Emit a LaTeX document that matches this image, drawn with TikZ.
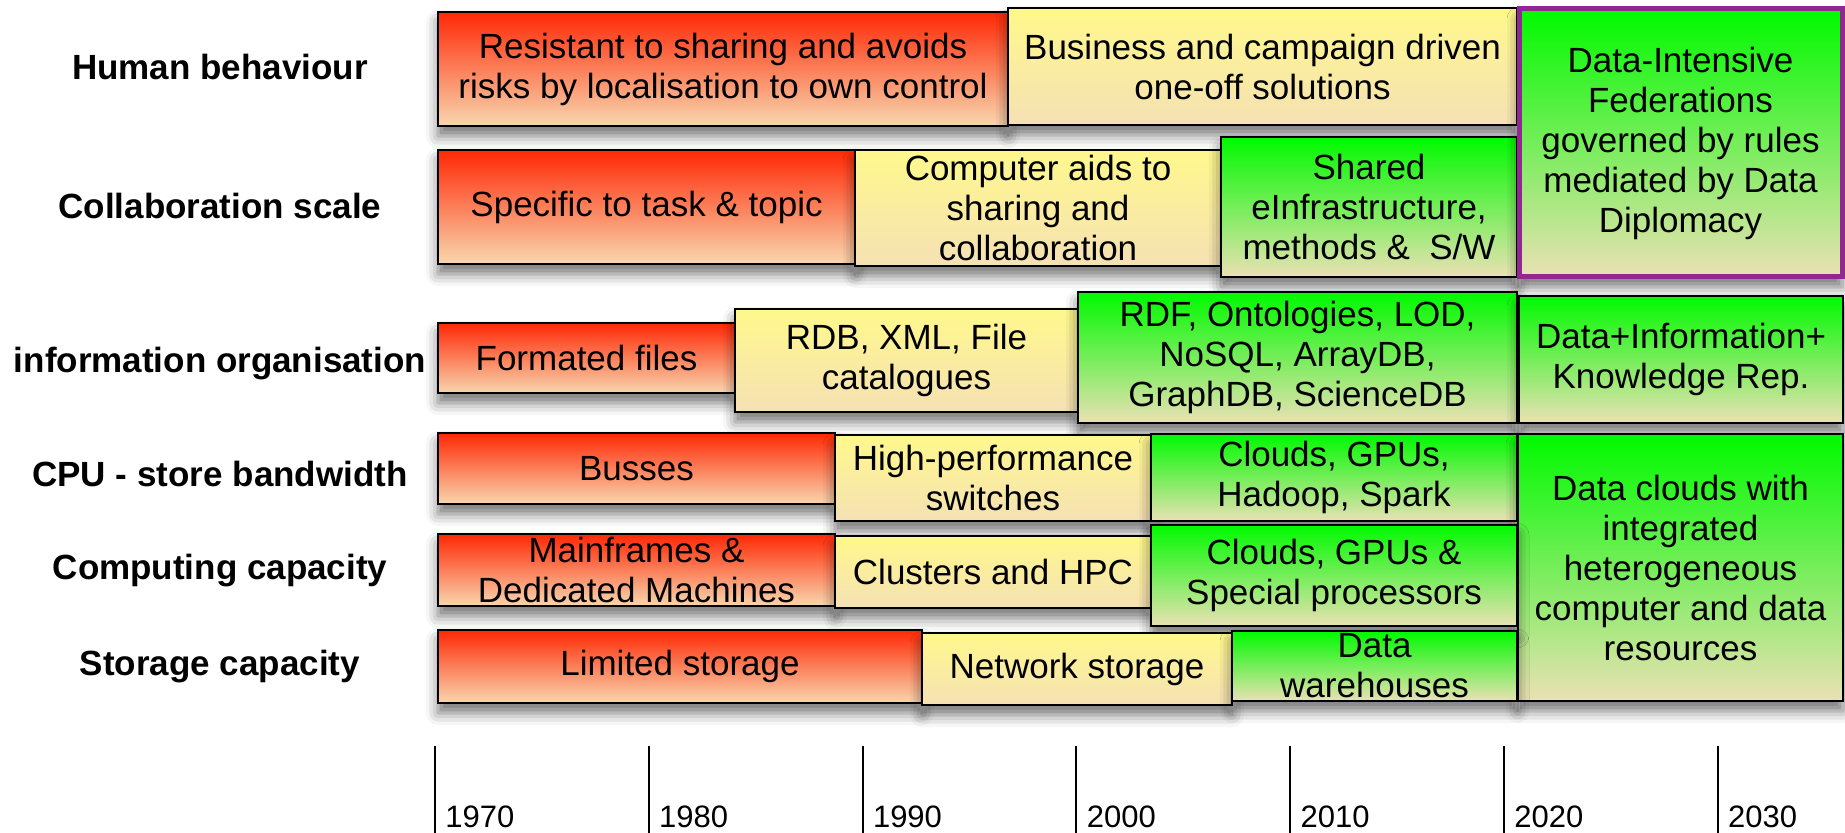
\documentclass[tikz,border=0pt]{standalone}
\usepackage{fontspec}
\setmainfont{Liberation Sans}
\usetikzlibrary{positioning, shadows.blur}
\definecolor{topred}{RGB}{255, 40, 5}
\definecolor{lowred}{RGB}{248, 215, 175}
\definecolor{topyellow}{RGB}{255, 248, 140}
\definecolor{lowyellow}{RGB}{245, 225, 180}
\definecolor{topgreen}{RGB}{0, 250, 0}
\definecolor{lowgreen}{RGB}{235, 225, 180}
\definecolor{fedpurple}{RGB}{145, 40, 145}

\tikzset{
  eratext/.style={font=\fontsize{17.5pt}{20pt}\selectfont, align=center, inner sep=0pt},
  era/.style={draw=black, line width=1.2pt, inner sep=0pt, eratext,
    blur shadow={shadow xshift=0pt, shadow yshift=-5pt, shadow blur radius=6pt, shadow opacity=55}},
  oldera/.style={era, top color=topred, bottom color=lowred},
  midera/.style={era, top color=topyellow, bottom color=lowyellow},
  newera/.style={era, top color=topgreen, bottom color=lowgreen},
  rowlabel/.style={font=\bfseries\fontsize{17.5pt}{20pt}\selectfont},
  yearlabel/.style={font=\fontsize{15.5pt}{18pt}\selectfont, anchor=base west, inner sep=0pt}
}

\begin{document}
\begin{tikzpicture}[x=0.5pt, y=-0.5pt]
  \useasboundingbox (0,0) rectangle (1845,833);

  % Row labels
  \node[rowlabel] (lhuman) at (220,67) {Human behaviour};
  \node[rowlabel] (lcollab) at (220,206) {Collaboration scale};
  \node[rowlabel] (linfo) at (220,364) {information organisation};
  \node[rowlabel] (lcpu) at (220,474) {CPU - store bandwidth};
  \node[rowlabel] (lcomp) at (220,571) {Computing capacity};
  \node[rowlabel] (lstore) at (220,667) {Storage capacity};

  % Human behaviour
  \node[oldera, minimum width=285pt, minimum height=57pt] (hbold) at (723,69) {Resistant to sharing and avoids\\risks by localisation to own control};
  \node[midera, minimum width=254.5pt, minimum height=58.5pt] (hbmid) at (1262.5,66.5) {Business and campaign driven\\one-off solutions};

  % Collaboration scale
  \node[oldera, minimum width=208.5pt, minimum height=57pt] (csold) at (646.5,207) {Specific to task \& topic};
  \node[midera, minimum width=183pt, minimum height=58pt] (csmid) at (1038,208) {Computer aids to\\sharing and\\collaboration};
  \node[newera, minimum width=148pt, minimum height=70pt] (csnew) at (1369,207) {Shared\\eInfrastructure,\\methods \&\ \ S/W};
  \node[newera, draw=fedpurple, line width=2.5pt, minimum width=161.5pt, minimum height=134pt] (fed) at (1680.5,143) {Data-Intensive\\Federations\\governed by rules\\mediated by Data\\Diplomacy};

  % information organisation
  \node[oldera, minimum width=148.5pt, minimum height=35pt] (ioold) at (586.5,358) {Formated files};
  \node[midera, minimum width=171.5pt, minimum height=51.5pt] (iomid) at (906.5,360.5) {RDB, XML, File\\catalogues};
  \node[newera, minimum width=219.5pt, minimum height=65.5pt] (ionew) at (1297.5,357.5) {RDF, Ontologies, LOD,\\NoSQL, ArrayDB,\\GraphDB, ScienceDB};
  \node[newera, minimum width=162pt, minimum height=63.5pt] (iorep) at (1681,359.5) {Data+Information+\\Knowledge Rep.};

  % CPU - store bandwidth
  \node[oldera, minimum width=198.5pt, minimum height=35.5pt] (cpold) at (636.5,468.5) {Busses};
  \node[midera, minimum width=158pt, minimum height=43pt] (cpmid) at (993,478) {High-performance\\switches};
  \node[newera, minimum width=183pt, minimum height=43.5pt] (cpnew) at (1334,477.5) {Clouds, GPUs,\\Hadoop, Spark};
  \node[newera, minimum width=162.5pt, minimum height=133.5pt] (dclouds) at (1680.5,567.5) {Data clouds with\\integrated\\heterogeneous\\computer and data\\resources};

  % Computing capacity
  \node[oldera, minimum width=198.5pt, minimum height=36pt, label={[eratext]center:Mainframes \&\\Dedicated Machines}] (ccold) at (636.5,570) {};
  \node[midera, minimum width=158pt, minimum height=36pt] (ccmid) at (993,572) {Clusters and HPC};
  \node[newera, minimum width=183pt, minimum height=50.5pt] (ccnew) at (1334,575.5) {Clouds, GPUs \&\\Special processors};

  % Storage capacity
  \node[oldera, minimum width=242pt, minimum height=36.5pt] (scold) at (680,666.5) {Limited storage};
  \node[midera, minimum width=155pt, minimum height=36pt] (scmid) at (1077,669) {Network storage};
  \node[newera, minimum width=142.5pt, minimum height=35pt, label={[eratext]center:Data\\warehouses}] (scnew) at (1374.5,666) {};

  % Years
  \foreach \yr [count=\i from 0] in {1970,1980,...,2030} {
    \draw[line width=1pt] ({435+213.8*\i},746) -- ({435+213.8*\i},833);
    \node[yearlabel] (y\yr) at ({445+213.8*\i},827) {\yr};
  }
\end{tikzpicture}
\end{document}
